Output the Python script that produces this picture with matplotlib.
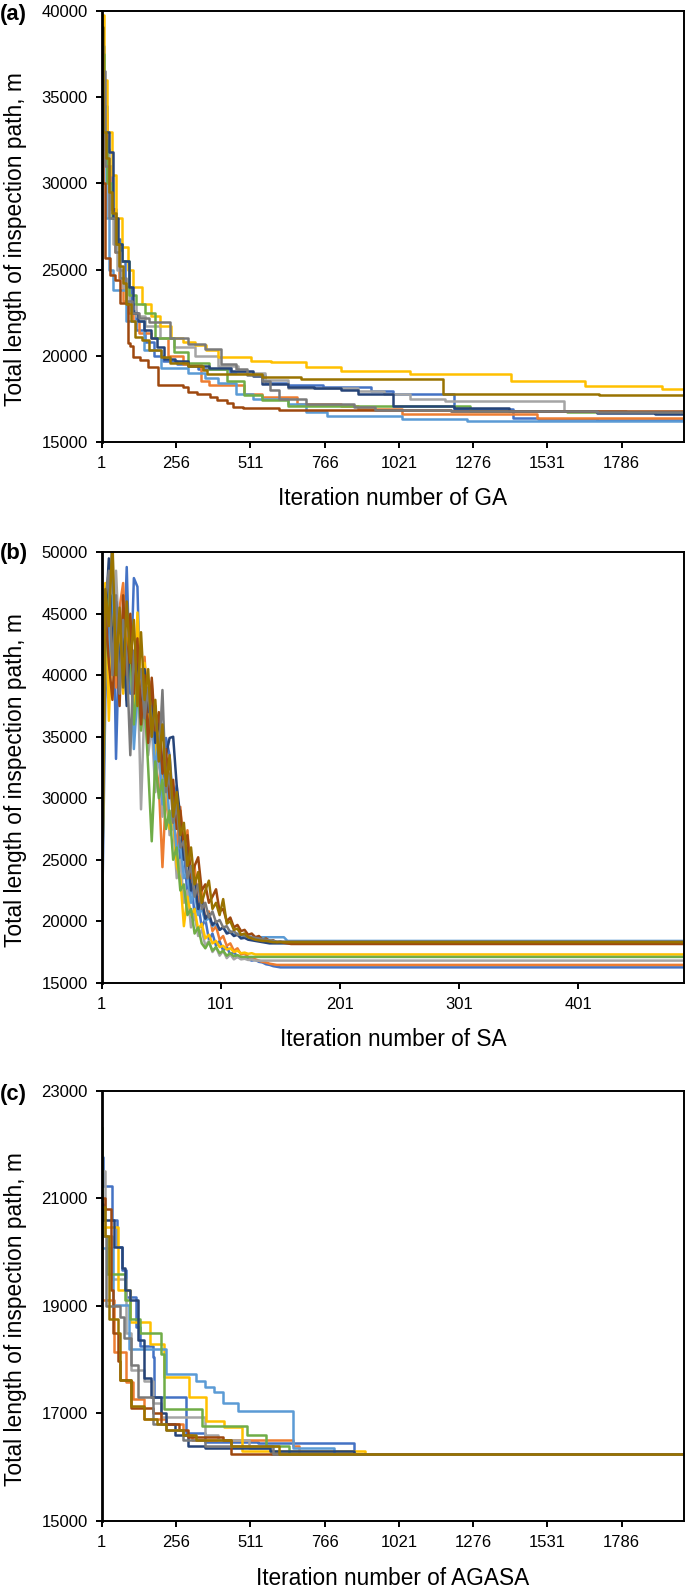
import matplotlib
matplotlib.use("Agg")
import matplotlib.pyplot as plt

plt.rcParams['font.family'] = ['Liberation Sans', 'DejaVu Sans']

# Excel default series colours, in series order
BLUE, ORANGE, LGRAY, GOLD, LBLUE = '#4472C4', '#ED7D31', '#A5A5A5', '#FFC000', '#5B9BD5'
GREEN, DBLUE, BROWN, GRAY, OLIVE = '#70AD47', '#264478', '#9E480E', '#7A7A7A', '#997300'
colors = [BLUE, ORANGE, LGRAY, GOLD, LBLUE, GREEN, DBLUE, BROWN, GRAY, OLIVE]

# ---- (a) GA: best path length, (iteration, value) where the value changes
ga_blue = [(1, 38000), (8, 34500), (20, 31000), (35, 28500), (50, 26800), (65, 25500), (80, 24000),
           (100, 22600), (120, 21500), (150, 20800), (180, 20000), (210, 19700), (260, 19500),
           (330, 19200), (440, 19000), (520, 18900), (560, 18400), (640, 18300), (760, 18200),
           (926, 17950), (1001, 17750), (1211, 16900), (1414, 16400), (1500, 16300), (1700, 16250)]
ga_orange = [(1, 38500), (6, 34000), (18, 31000), (30, 28500), (45, 26000), (60, 24500), (75, 23200),
             (90, 22500), (110, 22000), (130, 21300), (170, 21000), (230, 20000), (280, 19500),
             (341, 18500), (371, 18300), (491, 17800), (551, 17600), (671, 17200), (821, 17100),
             (881, 16900), (1031, 16600), (1496, 16400)]
ga_lgray = [(1, 37000), (10, 32000), (25, 28000), (40, 26500), (55, 25000), (75, 24000), (95, 23000),
            (120, 22300), (150, 21700), (200, 21000), (250, 20500), (320, 20000), (400, 19400),
            (470, 19000), (560, 18600), (641, 18100), (881, 17950), (971, 17750), (1061, 17500),
            (1180, 17380), (1587, 16800), (1800, 16750)]
ga_gold = [(1, 39800), (8, 36000), (20, 33000), (35, 30500), (50, 28000), (70, 26300), (90, 25000),
           (110, 24000), (140, 23000), (170, 22300), (200, 21700), (240, 21000), (280, 20800),
           (320, 20600), (360, 20300), (401, 19940), (514, 19710), (581, 19610), (701, 19320),
           (821, 19130), (1061, 18930), (1406, 18540), (1661, 18250), (1924, 18060)]
ga_lblue = [(1, 38000), (5, 32000), (15, 28000), (25, 25000), (41, 23800), (86, 22000), (146, 20300),
            (206, 19300), (296, 19000), (356, 18700), (401, 18400), (461, 17800), (521, 17500),
            (641, 17200), (701, 16700), (776, 16500), (1031, 16300), (1256, 16200)]
ga_green = [(1, 37500), (8, 32500), (20, 30000), (35, 28000), (50, 26500), (70, 25500), (94, 23500),
            (120, 23000), (150, 22500), (184, 21000), (250, 20200), (296, 19600), (371, 19200),
            (431, 18500), (491, 17700), (551, 17400), (641, 17100), (1264, 16800), (1600, 16700)]
ga_dblue = [(1, 35000), (10, 33000), (26, 31800), (41, 28000), (56, 26500), (71, 25500), (94, 24000),
            (109, 22500), (125, 22000), (146, 21500), (170, 21000), (191, 20500), (214, 19800),
            (251, 19700), (296, 19400), (371, 19300), (446, 19100), (521, 18800), (551, 18350),
            (641, 18200), (731, 18100), (821, 18000), (880, 17800), (1001, 17100), (1211, 16950),
            (1400, 16800), (1700, 16650), (1900, 16600)]
ga_brown = [(1, 35000), (5, 30000), (12, 25660), (30, 24700), (47, 24390), (64, 23050), (92, 20730),
            (98, 20540), (109, 19920), (132, 19720), (161, 19340), (195, 18290), (281, 18200),
            (298, 17900), (327, 17800), (373, 17620), (396, 17430), (430, 17240), (452, 17040),
            (487, 16950), (611, 16860), (1200, 16800)]
ga_gray = [(1, 36500), (12, 31000), (25, 28000), (45, 26000), (65, 24500), (85, 23200), (105, 22500),
           (130, 22200), (162, 21930), (237, 21000), (296, 20700), (356, 20400), (409, 19500),
           (461, 19200), (499, 18900), (551, 18500), (580, 18000), (611, 17500), (701, 17200),
           (866, 17000), (940, 16850), (1200, 16780), (1700, 16720)]
ga_olive = [(1, 39100), (6, 33000), (15, 31500), (25, 29500), (35, 28300), (50, 26500), (60, 25200),
            (75, 24200), (86, 23000), (100, 22000), (115, 21100), (140, 20900), (165, 20300),
            (205, 19900), (236, 19600), (296, 19400), (350, 19150), (364, 18930), (551, 18780),
            (686, 18640), (1174, 17770), (1707, 17700)]

# ---- (b) SA: path length sampled every 3rd iteration, then flat to the end
sa_iters = list(range(1, 161, 3))
sa_end = 490
sa_blue = [18000, 38000, 45000, 51000, 33200, 44000, 40000, 48800, 38500, 47900,
           47200, 36000, 41000, 35500, 38500, 33000, 36500, 31500, 34900, 33500,
           29500, 31000, 24500, 26000, 22000, 23500, 20500, 21500, 19500, 20200,
           18500, 19000, 18000, 18400, 17600, 17900, 17300, 17500, 17100, 17000,
           17100, 16900, 16800, 16850, 16700, 16650, 16500, 16450, 16350, 16300,
           16250, 16250, 16250, 16250]
sa_orange = [21000, 44000, 40500, 46000, 39000, 45500, 47500, 41000, 44500, 38000,
             43000, 37000, 41500, 36000, 39500, 33000, 31000, 24400, 30500, 27500,
             28500, 26000, 29300, 25500, 27400, 23000, 24500, 21500, 22500, 20000,
             20800, 19200, 19600, 18500, 18800, 18000, 18200, 17600, 17800, 17300,
             17400, 17100, 17000, 16900, 16800, 16700, 16650, 16550, 16500, 16450,
             16450, 16450, 16450, 16450]
sa_lgray = [20000, 43000, 47000, 41000, 48500, 42000, 45000, 39500, 44000, 37500,
            41000, 29100, 38000, 33500, 36000, 30500, 34000, 28500, 31500, 27000,
            28000, 23500, 25000, 21500, 22500, 19500, 20500, 18800, 19300, 18000,
            18400, 17500, 17900, 17200, 17600, 17000, 17300, 16900, 17100, 16900,
            16950, 16850, 16900, 16800, 16800, 16800, 16800, 16800, 16800, 16800,
            16800, 16800, 16800, 16800]
sa_gold = [22000, 47500, 36300, 45000, 40000, 44500, 38500, 43000, 40500, 37000,
           45100, 39000, 41000, 36500, 38000, 33500, 35500, 30500, 31500, 27500,
           28500, 24500, 23500, 19600, 22000, 20500, 21000, 19300, 19800, 18600,
           18900, 18200, 18400, 17900, 18000, 17700, 17800, 17500, 17600, 17400,
           17450, 17350, 17400, 17300, 17300, 17300, 17300, 17300, 17300, 17300,
           17300, 17300, 17300, 17300]
sa_lblue = [24000, 45000, 41500, 46500, 43000, 39000, 44000, 40000, 42500, 34000,
            38500, 36000, 40000, 34500, 37500, 32000, 35000, 29500, 32500, 28000,
            29000, 25500, 26500, 23500, 24000, 21500, 22500, 20500, 21000, 20000,
            20300, 19600, 19800, 19300, 19500, 19100, 19200, 18900, 19000, 18800,
            18750, 18700, 18750, 18700, 18700, 18700, 18700, 18700, 18700, 18700,
            18700, 18700, 18400, 18400]
sa_green = [20500, 42000, 47700, 41500, 45000, 40000, 43500, 38000, 42000, 36000,
            39500, 35500, 38000, 32500, 26500, 33000, 30000, 31500, 27500, 29000,
            25000, 26000, 22500, 23000, 20500, 21000, 19000, 19500, 18200, 17800,
            18300, 17600, 17900, 17400, 17600, 17200, 17400, 17150, 17250, 17100,
            17100, 17100, 17100, 17100, 17100, 17100, 17100, 17100, 17100, 17100,
            17100, 17100, 17100, 17100]
sa_dblue = [23000, 44500, 49500, 42000, 46000, 40500, 43000, 37500, 44000, 39500,
            41500, 36500, 40500, 37000, 39000, 34500, 36500, 32500, 33500, 34900,
            35000, 31000, 28500, 25000, 26000, 22500, 23500, 21000, 21800, 20200,
            20600, 19700, 20000, 19300, 19500, 19000, 19100, 18800, 18900, 18600,
            18650, 18500, 18450, 18400, 18350, 18300, 18250, 18200, 18200, 18200,
            18200, 18200, 18200, 18200]
sa_brown = [22500, 45500, 41000, 38000, 44000, 37500, 46500, 40000, 45000, 38500,
            43000, 36000, 40000, 34500, 39800, 35500, 37000, 32000, 34000, 30000,
            31500, 27500, 29000, 26000, 27000, 23500, 24500, 25200, 22500, 23000,
            21500, 22000, 22600, 20800, 21000, 20000, 20300, 19500, 19700, 19200,
            19300, 18900, 19000, 18700, 18800, 18500, 18600, 18400, 18450, 18300,
            18350, 18250, 18200, 18150]
sa_gray = [19000, 46000, 48500, 40000, 46500, 38500, 44500, 41500, 33500, 42000,
           39000, 40500, 36500, 39000, 35000, 37500, 33000, 38800, 30500, 32000,
           28000, 29500, 26000, 26500, 23500, 24500, 22000, 23000, 21000, 21500,
           20300, 20800, 19900, 20100, 19500, 19600, 19100, 19200, 18900, 18900,
           18800, 18750, 18700, 18650, 18600, 18550, 18500, 18450, 18400, 18350,
           18350, 18350, 18350, 18350]
sa_olive = [17800, 47000, 44000, 51000, 40000, 45500, 39000, 46000, 41000, 44500,
            37500, 43500, 38000, 40500, 35000, 38000, 33000, 36000, 31000, 33500,
            28500, 30500, 27000, 28000, 24500, 26000, 23000, 24000, 21500, 22500,
            23300, 21000, 21500, 20500, 21800, 19800, 20000, 19300, 19400, 18900,
            19000, 18700, 18600, 18500, 18450, 18400, 18400, 18350, 18300, 18300,
            18300, 18300, 18300, 18300]

# ---- (c) AGASA: best path length, (iteration, value) where the value changes
ag_blue = [(1, 21770), (6, 21220), (35, 20590), (52, 20100), (69, 19660), (86, 19160), (120, 18600),
           (131, 18260), (177, 18050), (182, 17300), (291, 16640), (356, 16470), (536, 16450), (866, 16250)]
ag_orange = [(1, 21020), (3, 19110), (44, 18140), (86, 17590), (109, 17260), (146, 16900), (221, 16800),
             (281, 16600), (311, 16500), (656, 16400), (680, 16250)]
ag_lgray = [(1, 21510), (11, 20300), (37, 19500), (86, 18500), (101, 17800), (146, 17600), (176, 17200),
            (206, 16930), (356, 16600), (401, 16500), (506, 16350), (581, 16250)]
ag_gold = [(1, 20470), (57, 19290), (98, 18700), (168, 18290), (215, 17670), (300, 17300), (358, 16860),
           (421, 16750), (484, 16300), (904, 16250)]
ag_lblue = [(1, 20080), (41, 19010), (94, 18190), (221, 17740), (326, 17600), (356, 17500), (386, 17400),
            (416, 17200), (469, 17050), (656, 16350), (799, 16250)]
ag_green = [(1, 22300), (3, 20300), (20, 19600), (80, 19100), (97, 18760), (131, 18500), (206, 18100),
            (216, 17080), (345, 16770), (500, 16600), (566, 16400), (644, 16250)]
ag_dblue = [(1, 20900), (5, 20600), (44, 20100), (69, 19700), (80, 19300), (97, 19100), (124, 18370),
            (146, 17650), (169, 17300), (206, 17000), (221, 16800), (251, 16600), (296, 16400),
            (356, 16350), (580, 16300), (866, 16250)]
ag_brown = [(1, 21000), (11, 20800), (34, 19300), (41, 18500), (56, 17980), (64, 17620), (101, 17110),
            (176, 17000), (206, 16800), (266, 16700), (296, 16570), (417, 16500), (446, 16250)]
ag_gray = [(1, 20300), (14, 19000), (63, 18800), (78, 18400), (101, 17900), (124, 17300), (176, 16800),
           (221, 16700), (281, 16500), (356, 16400), (590, 16250)]
ag_olive = [(1, 20830), (11, 20300), (26, 18760), (56, 18500), (64, 17620), (101, 17130), (146, 16900),
            (191, 16800), (221, 16700), (281, 16600), (326, 16500), (446, 16400), (611, 16250)]

ga_ticks = [1, 256, 511, 766, 1021, 1276, 1531, 1786]
sa_ticks = [1, 101, 201, 301, 401]
n_iter = 2000

ga_runs = [ga_blue, ga_orange, ga_lgray, ga_gold, ga_lblue, ga_green, ga_dblue, ga_brown, ga_gray, ga_olive]
sa_runs = [sa_blue, sa_orange, sa_lgray, sa_gold, sa_lblue, sa_green, sa_dblue, sa_brown, sa_gray, sa_olive]
ag_runs = [ag_blue, ag_orange, ag_lgray, ag_gold, ag_lblue, ag_green, ag_dblue, ag_brown, ag_gray, ag_olive]

LW = 1.8


def plot_steps(ax, pts, color):
    xs = [p[0] for p in pts] + [n_iter]
    ys = [p[1] for p in pts] + [pts[-1][1]]
    ax.plot(xs, ys, drawstyle='steps-post', color=color, lw=LW)


def style(ax, ylim, ystep, xmax, xticks, xlabel):
    ax.set_xlim(1, xmax)
    ax.set_ylim(*ylim)
    ax.set_yticks(range(ylim[0], ylim[1] + 1, ystep))
    ax.set_xticks(xticks)
    for s in ax.spines.values():
        s.set_linewidth(1.4)
        s.set_color('black')
    ax.spines['left'].set_linewidth(2)
    ax.tick_params(direction='out', length=4, width=1.4, labelsize=12, pad=6)
    ax.set_xlabel(xlabel, fontsize=16.3, labelpad=12)
    ax.set_ylabel('Total length of inspection path, m', fontsize=16.4)
    ax.yaxis.set_label_coords(-0.128, 0.47)


fig = plt.figure(figsize=(6.85, 15.92), dpi=100)
ax_a = fig.add_axes([0.1485, 0.7225, 0.850, 0.2705])
ax_b = fig.add_axes([0.1485, 0.3827, 0.850, 0.2704])
ax_c = fig.add_axes([0.1485, 0.0446, 0.850, 0.2703])

for pts, c in zip(ga_runs, colors):
    plot_steps(ax_a, pts, c)
style(ax_a, (15000, 40000), 5000, n_iter, ga_ticks, 'Iteration number of GA')

for vals, c in zip(sa_runs, colors):
    ax_b.plot(sa_iters + [sa_end], vals + [vals[-1]], color=c, lw=LW)
style(ax_b, (15000, 50000), 5000, sa_end, sa_ticks, 'Iteration number of SA')

for pts, c in zip(ag_runs, colors):
    plot_steps(ax_c, pts, c)
style(ax_c, (15000, 23000), 2000, n_iter, ga_ticks, 'Iteration number of AGASA')

for tag, y in [('(a)', 0.9906), ('(b)', 0.6526), ('(c)', 0.3122)]:
    fig.text(0.0, y, tag, fontsize=15.8, fontweight='bold', va='center', ha='left')

fig.savefig('out.png', dpi=100)
